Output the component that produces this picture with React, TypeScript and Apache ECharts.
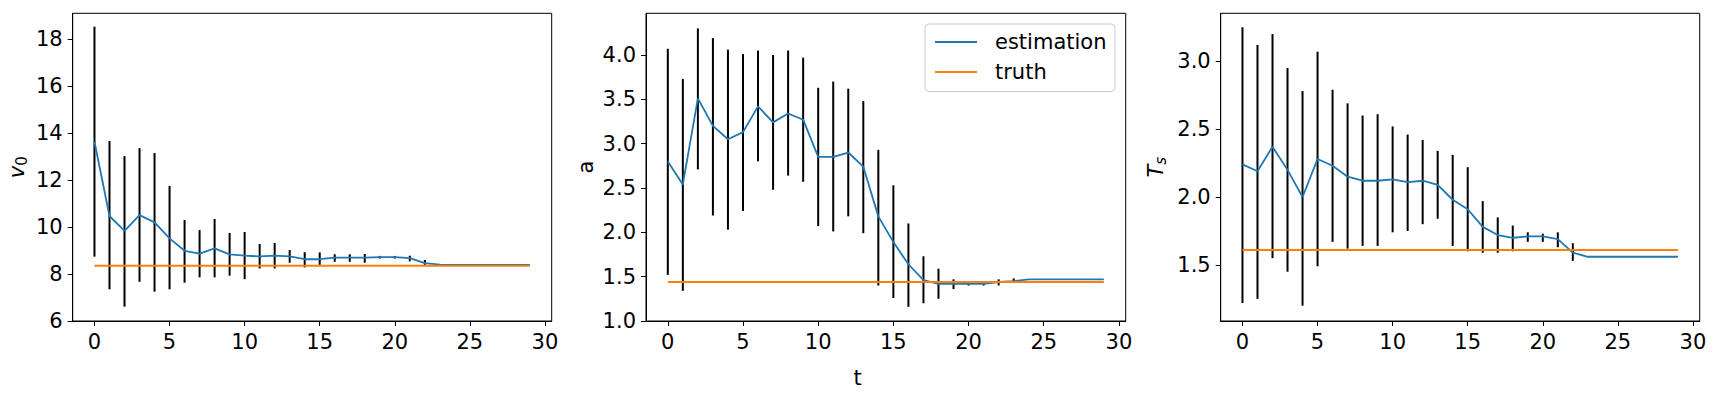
import React, { useEffect, useRef } from "react";
import * as echarts from "echarts";

// ---------- data ----------
const tSteps = [0, 1, 2, 3, 4, 5, 6, 7, 8, 9, 10, 11, 12, 13, 14, 15, 16, 17, 18, 19, 20, 21, 22, 23, 24, 25, 26, 27, 28, 29];
const xTicks = [0, 5, 10, 15, 20, 25, 30];

// panel 1: v0
const v0Mean = [13.63, 10.47, 9.84, 10.51, 10.2, 9.52, 8.99, 8.87, 9.09, 8.84, 8.78, 8.75, 8.78, 8.75, 8.63, 8.63, 8.7, 8.7, 8.7, 8.72, 8.72, 8.68, 8.46, 8.4, 8.39, 8.39, 8.39, 8.39, 8.39, 8.39];
const v0Lower = [8.74, 7.35, 6.61, 7.67, 7.25, 7.35, 7.63, 7.86, 7.86, 7.93, 7.78, 8.24, 8.24, 8.48, 8.28, 8.39, 8.52, 8.52, 8.48, 8.66, 8.66, 8.54, 8.39, null, null, null, null, null, null, null];
const v0Upper = [18.53, 13.66, 13.02, 13.36, 13.15, 11.75, 10.3, 9.87, 10.34, 9.75, 9.79, 9.28, 9.32, 9.02, 8.93, 8.92, 8.84, 8.84, 8.85, 8.77, 8.77, 8.78, 8.6, null, null, null, null, null, null, null];
const v0Truth = [8.35, 8.35];
const v0Ticks = [6, 8, 10, 12, 14, 16, 18];

// panel 2: a
const aMean = [2.8, 2.54, 3.51, 3.2, 3.05, 3.13, 3.42, 3.24, 3.34, 3.27, 2.85, 2.85, 2.9, 2.74, 2.18, 1.89, 1.64, 1.46, 1.42, 1.42, 1.42, 1.42, 1.44, 1.45, 1.47, 1.47, 1.47, 1.47, 1.47, 1.47];
const aLower = [1.52, 1.34, 2.71, 2.19, 2.03, 2.24, 2.8, 2.48, 2.64, 2.57, 2.07, 2.01, 2.18, 1.99, 1.4, 1.26, 1.16, 1.2, 1.25, 1.36, 1.4, 1.4, 1.4, 1.44, null, null, null, null, null, null];
const aUpper = [4.07, 3.73, 4.3, 4.19, 4.06, 4.01, 4.05, 4.0, 4.05, 3.97, 3.63, 3.7, 3.62, 3.48, 2.93, 2.53, 2.1, 1.73, 1.59, 1.47, 1.44, 1.44, 1.47, 1.48, null, null, null, null, null, null];
const aTruth = [1.44, 1.44];
const aTicks = [1.0, 1.5, 2.0, 2.5, 3.0, 3.5, 4.0];

// panel 3: Ts
const tsMean = [2.24, 2.19, 2.37, 2.2, 2.0, 2.28, 2.23, 2.15, 2.12, 2.12, 2.13, 2.11, 2.12, 2.09, 1.98, 1.91, 1.78, 1.72, 1.7, 1.71, 1.71, 1.69, 1.59, 1.56, 1.56, 1.56, 1.56, 1.56, 1.56, 1.56];
const tsLower = [1.22, 1.25, 1.55, 1.45, 1.2, 1.49, 1.67, 1.62, 1.64, 1.64, 1.74, 1.75, 1.8, 1.84, 1.64, 1.6, 1.59, 1.59, 1.6, 1.67, 1.67, 1.63, 1.53, null, null, null, null, null, null, null];
const tsUpper = [3.25, 3.12, 3.2, 2.95, 2.78, 3.07, 2.79, 2.69, 2.6, 2.61, 2.52, 2.46, 2.42, 2.34, 2.31, 2.22, 1.97, 1.85, 1.79, 1.74, 1.73, 1.74, 1.66, null, null, null, null, null, null, null];
const tsTruth = [1.61, 1.61];
const tsTicks = [1.5, 2.0, 2.5, 3.0];

const FONT = "DejaVu Sans";
const FS = 21;
const BLUE = "#1f77b4";
const ORANGE = "#ff7f0e";

type Panel = {
  mean: number[];
  lower: (number | null)[];
  upper: (number | null)[];
  truth: number[];
  ticks: number[];
  yMin: number;
  yMax: number;
  decimals: number;
  name: string;
  rich: any;
  nameGap: number;
  grid: { left: number; top: number; width: number; height: number };
};

const panels: Panel[] = [
  {
    mean: v0Mean, lower: v0Lower, upper: v0Upper, truth: v0Truth, ticks: v0Ticks,
    yMin: 6.0, yMax: 19.1, decimals: 0,
    name: "{i|v}{s|0}",
    rich: {
      i: { fontStyle: "italic", fontSize: FS, fontFamily: FONT, color: "#000" },
      s: { fontSize: 15, fontFamily: FONT, color: "#000", padding: [10, 0, 0, 0] },
    },
    nameGap: 43,
    grid: { left: 72.7, top: 13.3, width: 479, height: 307.7 },
  },
  {
    mean: aMean, lower: aLower, upper: aUpper, truth: aTruth, ticks: aTicks,
    yMin: 1.0, yMax: 4.47, decimals: 1,
    name: "a",
    rich: {},
    nameGap: 50,
    grid: { left: 646, top: 13.3, width: 479.7, height: 307.7 },
  },
  {
    mean: tsMean, lower: tsLower, upper: tsUpper, truth: tsTruth, ticks: tsTicks,
    yMin: 1.087, yMax: 3.353, decimals: 1,
    name: "{i|T}{s|s}",
    rich: {
      i: { fontStyle: "italic", fontSize: FS, fontFamily: FONT, color: "#000" },
      s: { fontStyle: "italic", fontSize: 15, fontFamily: FONT, color: "#000", padding: [10, 0, 0, 0] },
    },
    nameGap: 52,
    grid: { left: 1220.7, top: 13.3, width: 479, height: 307.7 },
  },
];

function buildOption() {
  const grid: any[] = [];
  const xAxis: any[] = [];
  const yAxis: any[] = [];
  const series: any[] = [];

  panels.forEach((p, i) => {
    grid.push({ ...p.grid, show: true, borderColor: "#000", borderWidth: 1, backgroundColor: "transparent" });
    xAxis.push({
      type: "value",
      gridIndex: i,
      min: -1.45,
      max: 30.45,
      splitLine: { show: false },
      axisLine: { show: true, onZero: false, lineStyle: { color: "#000", width: 1 } },
      axisTick: { show: true, length: 5, lineStyle: { color: "#000", width: 1 }, customValues: xTicks },
      axisLabel: { customValues: xTicks, color: "#000", fontSize: FS, fontFamily: FONT, margin: 10, formatter: (v: number) => String(v) },
    });
    yAxis.push({
      type: "value",
      gridIndex: i,
      min: p.yMin,
      max: p.yMax,
      splitLine: { show: false },
      axisLine: { show: true, onZero: false, lineStyle: { color: "#000", width: 1 } },
      axisTick: { show: true, length: 5, lineStyle: { color: "#000", width: 1 }, customValues: p.ticks },
      axisLabel: {
        customValues: p.ticks, color: "#000", fontSize: FS, fontFamily: FONT, margin: 10,
        formatter: (v: number) => v.toFixed(p.decimals),
      },
      name: p.name,
      nameLocation: "middle",
      nameRotate: 90,
      nameGap: p.nameGap,
      nameTextStyle: { color: "#000", fontSize: FS, fontFamily: FONT, rich: p.rich },
    });

    const barData: number[][] = [];
    tSteps.forEach((t, k) => {
      const lo = p.lower[k];
      const hi = p.upper[k];
      if (lo != null && hi != null) barData.push([t, lo, hi]);
    });

    series.push({
      type: "custom",
      name: "errorbar",
      xAxisIndex: i,
      yAxisIndex: i,
      data: barData,
      encode: { x: 0, y: [1, 2] },
      z: 2,
      renderItem: (params: any, api: any) => {
        const x = api.value(0);
        const a = api.coord([x, api.value(1)]);
        const b = api.coord([x, api.value(2)]);
        return {
          type: "line",
          shape: { x1: a[0], y1: a[1], x2: b[0], y2: b[1] },
          style: { stroke: "#000", lineWidth: 2 },
        };
      },
    });
    series.push({
      type: "line",
      name: "estimation",
      xAxisIndex: i,
      yAxisIndex: i,
      data: tSteps.map((t, k) => [t, p.mean[k]]),
      symbol: "none",
      color: BLUE,
      lineStyle: { color: BLUE, width: 1.8 },
      z: 3,
    });
    series.push({
      type: "line",
      name: "truth",
      xAxisIndex: i,
      yAxisIndex: i,
      data: [[tSteps[0], p.truth[0]], [tSteps[tSteps.length - 1], p.truth[1]]],
      symbol: "none",
      color: ORANGE,
      lineStyle: { color: ORANGE, width: 2 },
      z: 4,
    });
  });

  return {
    animation: false,
    backgroundColor: "#fff",
    textStyle: { fontFamily: FONT },
    grid,
    xAxis,
    yAxis,
    series,
    legend: {
      data: ["estimation", "truth"],
      orient: "vertical",
      left: 925,
      top: 24,
      padding: [7.5, 8.5, 9, 10],
      itemGap: 9,
      itemWidth: 42,
      itemHeight: 2,
      icon: "rect",
      backgroundColor: "rgba(255,255,255,0.8)",
      borderColor: "#cccccc",
      borderWidth: 1,
      borderRadius: 4,
      selectedMode: false,
      textStyle: { color: "#000", fontSize: FS, fontFamily: FONT, padding: [0, 0, 0, 13] },
    },
    graphic: [
      {
        type: "text",
        x: 857.5,
        y: 378,
        style: { text: "t", fontSize: FS, fontFamily: FONT, fill: "#000", align: "center", verticalAlign: "middle" },
      },
    ],
  };
}

export default function App() {
  const ref = useRef<HTMLDivElement>(null);
  useEffect(() => {
    if (!ref.current) return;
    const chart = echarts.init(ref.current, null, { renderer: "svg" });
    chart.setOption(buildOption() as any);
    return () => chart.dispose();
  }, []);
  return <div ref={ref} style={{ position: "absolute", left: 0, top: 0, width: 1715, height: 399 }} />;
}
